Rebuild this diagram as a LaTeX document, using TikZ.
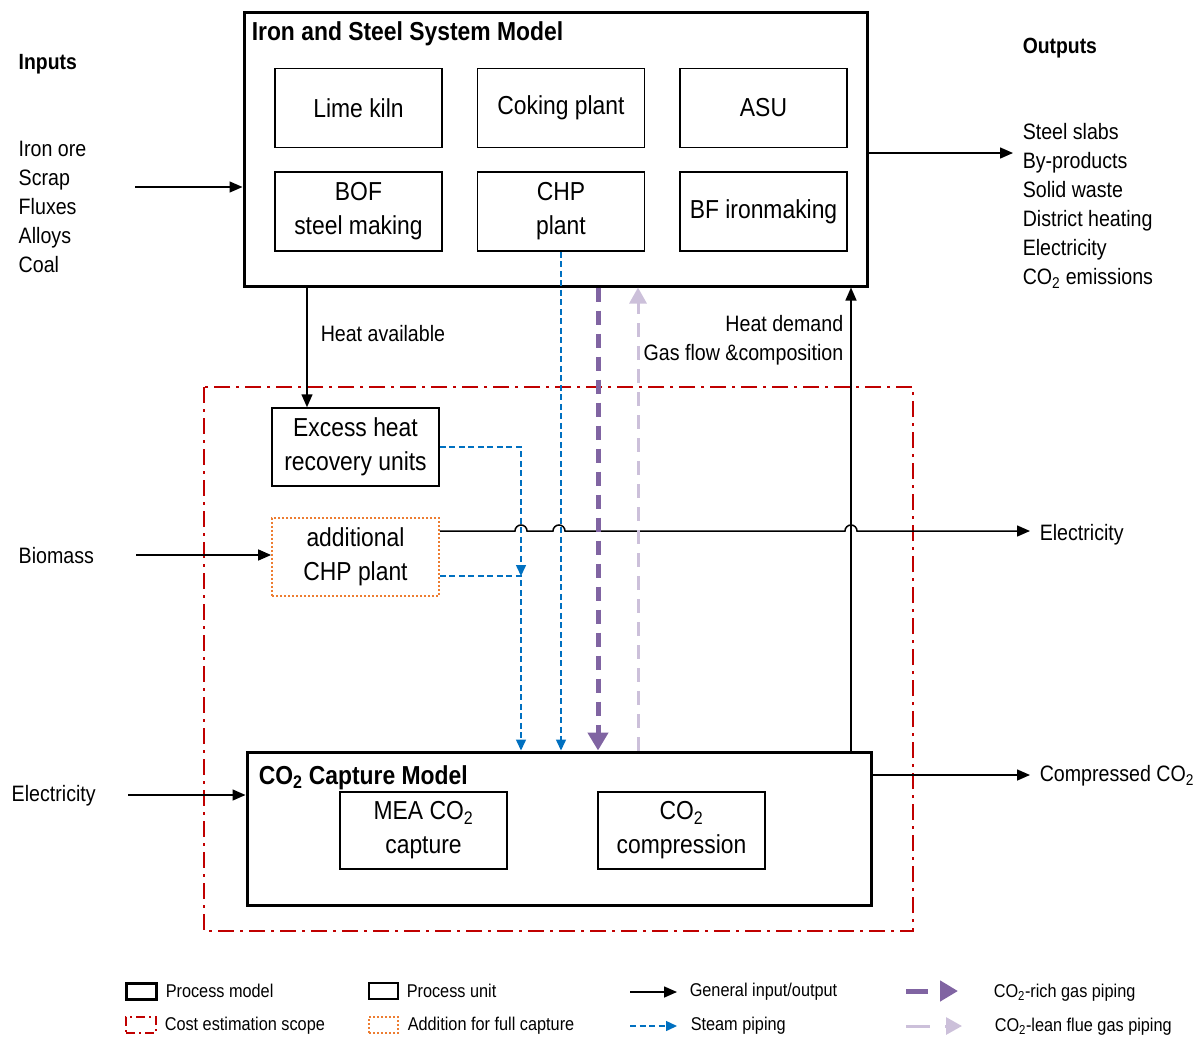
\documentclass[tikz,border=0pt]{standalone}
\usepackage{fontspec}
\setmainfont{Liberation Sans}[FakeStretch=0.88]
\usetikzlibrary{arrows.meta,positioning,calc}
\definecolor{steamblue}{HTML}{0070C0}
\definecolor{richpurple}{HTML}{8064A2}
\definecolor{leanpurple}{HTML}{CCC0DA}
\definecolor{addorange}{HTML}{ED7D31}
\definecolor{scopered}{HTML}{C00000}
\newcommand{\cotwo}{CO\textsubscript{2}}

\begin{document}
\begin{tikzpicture}[x=1pt,y=-1pt,>={Triangle[length=13pt,width=11pt]},line width=1.5pt,
  unit/.style={draw,line width=1.5pt,minimum width=167pt,minimum height=79pt,align=center,inner sep=0pt,font=\fontsize{26}{34}\selectfont},
  model/.style={draw,line width=3pt,inner sep=0pt},
  extra/.style={draw=addorange,line width=1.8pt,dash pattern=on 2pt off 2pt},
  costscope/.style={draw=scopered,line width=2.5pt,dash pattern=on 16pt off 6pt on 3pt off 6pt},
  steam/.style={draw=steamblue,dash pattern=on 6pt off 3.5pt,-{Triangle[length=11pt,width=10pt]}},
  rich/.style={draw=richpurple,line width=5pt,dash pattern=on 14pt off 9pt,-{Triangle[length=18pt,width=20pt]}},
  lean/.style={draw=leanpurple,line width=3pt,dash pattern=on 14pt off 9pt,-{Triangle[length=16pt,width=17pt]}},
  txt/.style={inner sep=0pt,align=left,font=\fontsize{22.3}{29}\selectfont},
  head/.style={inner sep=0pt,font=\bfseries\fontsize{22}{28}\selectfont},
  title/.style={inner sep=0pt,anchor=west,font=\bfseries\fontsize{26}{30}\selectfont},
  legend/.style={inner sep=0pt,anchor=west,font=\fontsize{18.5}{20}\selectfont}]
\useasboundingbox (0,0) rectangle (1203,1039);

% iron and steel model
\node[model,minimum width=623pt,minimum height=274pt] (m1) at (555.5,149) {};
\node[title] (t1) at (251,34) {Iron and Steel System Model};
\node[unit] (u1) at (358.5,108) {Lime kiln};
\node[unit] (u2) [right=34pt of u1] {Coking plant};
\node[unit] (u3) [right=34pt of u2] {ASU};
\node[unit] (u4) [below=23pt of u1] {BOF\\steel making};
\node[unit] (u5) [right=34pt of u4] {CHP\\plant};
\node[unit] (u6) [right=34pt of u5] {BF ironmaking};

% inputs and outputs
\node[head,anchor=west] (in) at (18,64) {Inputs};
\node[txt,anchor=west] (inl) at (18,207) {Iron ore\\Scrap\\Fluxes\\Alloys\\Coal};
\node[head,anchor=west] (out) at (1022,48) {Outputs};
\node[txt,anchor=west] (outl) at (1022,206) {Steel slabs\\By-products\\Solid waste\\District heating\\Electricity\\\cotwo{} emissions};

% capture side
\draw[costscope] (204,387) rectangle (913,931);
\node[unit,minimum height=78pt] (e1) at (355.5,447) {Excess heat\\recovery units};
\node[unit,extra,minimum height=78pt] (c1) [below=30pt of e1] {additional\\CHP plant};
\node[model,minimum width=624pt,minimum height=153pt] (m2) at (559,828.5) {};
\node[title] (t2) at (258,778) {\cotwo{} Capture Model};
\node[unit,minimum height=77pt] (u7) at (423.5,830.5) {MEA \cotwo\\capture};
\node[unit,minimum height=77pt] (u8) at (681.5,830.5) {\cotwo\\compression};

\node[txt,anchor=west] (bio) at (18,556) {Biomass};
\node[txt,anchor=west] (elin) at (11,796) {Electricity};
\node[txt,anchor=west] (elout) at (1039,535) {Electricity};
\node[txt,anchor=west] (cco) at (1039,776) {Compressed \cotwo};
\node[txt,anchor=west] (hav) at (320,334) {Heat available};
\node[txt,anchor=east,align=right] (hdem) at (844,340) {Heat demand\\Gas flow \&composition};

% general flows
\coordinate (a1) at (135,187);
\coordinate (a2) at (1013,153);
\coordinate (a3) at (136,555);
\coordinate (a4) at (128,795);
\coordinate (a5) at (1030,775);
\coordinate (a6) at (1030,531);
\coordinate (h1) at (307,0);
\coordinate (h2) at (851,0);
\draw[->] (a1) -- (a1 -| m1.west);
\draw[->] (m1.east |- a2) -- (a2);
\draw[->] (m1.south -| h1) -- (e1.north -| h1);
\draw[->] (a3) -- (a3 -| c1.west);
\draw[->] (a4) -- (a4 -| m2.west);
\draw[->] (m2.east |- a5) -- (a5);
\draw[->] (m2.north -| h2) -- (m1.south -| h2);
\draw[->] (c1.east |- a6) -- (515,531) arc[start angle=180,end angle=360,radius=6]
  -- (553,531) arc[start angle=180,end angle=360,radius=6]
  -- (845,531) arc[start angle=180,end angle=360,radius=6] -- (a6);

% steam and gas piping
\coordinate (s1) at (521,576);
\coordinate (g1) at (598,0);
\coordinate (g2) at (638,0);
\draw[steam] (e1.east) -| (s1);
\draw[steam] (c1.east |- s1) -- (s1) -- (s1 |- m2.north);
\draw[steam] (u5.south) -- (u5.south |- m2.north);
\draw[rich] (m1.south -| g1) -- (m2.north -| g1);
\draw[lean] (m2.north -| g2) -- (m1.south -| g2);

% legend
\node[model,minimum width=30pt,minimum height=16pt] (l1) at (141,991) {};
\node[legend] (l1t) at (165,991) {Process model};
\node[draw=scopered,line width=2.5pt,dash pattern=on 9pt off 4pt on 2pt off 4pt,minimum width=30pt,minimum height=16pt] (l2) at (141,1025) {};
\node[legend] (l2t) at (164,1026) {Cost estimation scope};
\node[draw,minimum width=29pt,minimum height=16pt] (l3) at (383.5,991) {};
\node[legend] (l3t) at (406,991) {Process unit};
\node[extra,minimum width=29pt,minimum height=16pt] (l4) at (383.5,1025) {};
\node[legend] (l4t) at (407,1026) {Addition for full capture};
\coordinate (l5a) at (630,992);
\coordinate (l5b) at (677,992);
\draw[->] (l5a) -- (l5b);
\node[legend] (l5t) at (689,992) {General input/output};
\coordinate (l6a) at (630,1026);
\coordinate (l6b) at (677,1026);
\draw[steam] (l6a) -- (l6b);
\node[legend] (l6t) at (690,1026) {Steam piping};
\coordinate (l7a) at (906,991);
\coordinate (l7b) at (958,991);
\draw[rich,dash pattern=on 22pt off 12pt] (l7a) -- (l7b);
\node[legend] (l7t) at (993,993) {\cotwo-rich gas piping};
\coordinate (l8a) at (906,1026);
\coordinate (l8b) at (962,1026);
\draw[lean,dash pattern=on 24pt off 15pt] (l8a) -- (l8b);
\node[legend] (l8t) at (994,1027) {\cotwo-lean flue gas piping};
\end{tikzpicture}
\end{document}
